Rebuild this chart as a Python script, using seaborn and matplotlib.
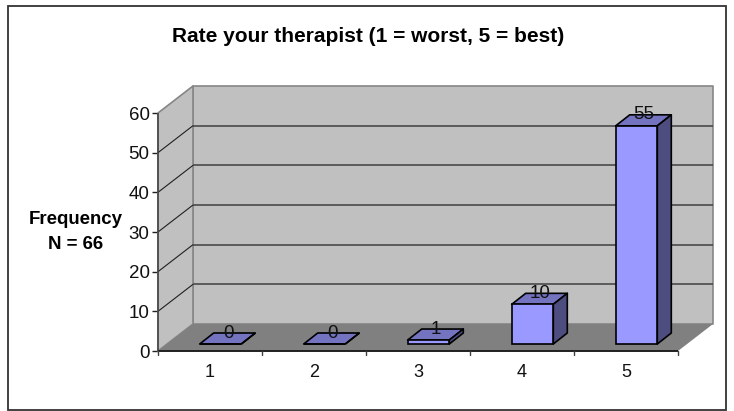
"""
Rate your therapist - Excel style 3D column chart drawn with seaborn
"""

import matplotlib
matplotlib.use("Agg")
import matplotlib.pyplot as plt
import seaborn as sns
from matplotlib.patches import Polygon, Rectangle
from matplotlib.transforms import Affine2D, IdentityTransform

# Chart data
RATINGS = ["1", "2", "3", "4", "5"]
FREQUENCY = [0, 0, 1, 10, 55]
Y_TICKS = [0, 10, 20, 30, 40, 50, 60]

TITLE = "Rate your therapist (1 = worst, 5 = best)"
Y_LABEL = "Frequency\nN = 66"

# Figure size in pixels
WIDTH, HEIGHT = 734, 411

# Depth of the 3D box and of the bars, in pixels
BOX_DX, BOX_DY = 35, 27
BAR_DX, BAR_DY = 10.5, 7
BAR_DEPTH_X, BAR_DEPTH_Y = 14, 11

FRONT = "#9999ff"
TOP = "#7373c0"
SIDE = "#4d4d80"
WALL = "#c0c0c0"
FLOOR = "#808080"
EDGE = "#868686"
GRID = "#404040"


def face(ax, pts, color, edge="none", lw=1.0, z=1):
    """Add a filled polygon given in pixel coordinates"""
    ax.add_patch(Polygon(pts, closed=True, facecolor=color, edgecolor=edge, linewidth=lw,
                         transform=IdentityTransform(), clip_on=False, zorder=z,
                         joinstyle="round"))


def line(ax, p0, p1, color, lw=1.0, z=2):
    ax.plot([p0[0], p1[0]], [p0[1], p1[1]], color=color, linewidth=lw,
            transform=IdentityTransform(), clip_on=False, zorder=z, solid_capstyle="butt")


def draw_box(ax):
    """Back wall, left wall, floor and grid lines"""
    to_px = ax.transData.transform
    x0, y0 = to_px((-0.5, 0))
    x1, _ = to_px((4.5, 0))
    _, y1 = to_px((0, max(Y_TICKS)))

    face(ax, [(x0 + BOX_DX, y0 + BOX_DY), (x1 + BOX_DX, y0 + BOX_DY),
              (x1 + BOX_DX, y1 + BOX_DY), (x0 + BOX_DX, y1 + BOX_DY)], WALL, EDGE, 1.2)
    face(ax, [(x0, y0), (x0 + BOX_DX, y0 + BOX_DY), (x0 + BOX_DX, y1 + BOX_DY), (x0, y1)],
         WALL, EDGE, 1.2)
    face(ax, [(x0, y0), (x1, y0), (x1 + BOX_DX, y0 + BOX_DY), (x0 + BOX_DX, y0 + BOX_DY)], FLOOR)

    for tick in Y_TICKS[1:-1]:
        _, y = to_px((0, tick))
        line(ax, (x0, y), (x0 + BOX_DX, y + BOX_DY), "#202020", 0.8)
        line(ax, (x0 + BOX_DX, y + BOX_DY), (x1 + BOX_DX, y + BOX_DY), GRID, 1.1)
    line(ax, (x0, y0), (x0, y1), GRID, 1.1, z=3)
    line(ax, (x0, y0), (x1, y0), "#202020", 1.4, z=3)


def draw_bars(ax):
    """Shift the seaborn bars into the box and add top and side faces"""
    shift = Affine2D().translate(BAR_DX, BAR_DY)
    for bar in ax.patches:
        if not isinstance(bar, Rectangle):
            continue
        (xa, ya), (xb, yb) = ax.transData.transform(
            [(bar.get_x(), 0), (bar.get_x() + bar.get_width(), bar.get_height())])
        bar.set_transform(ax.transData + shift)
        bar.set_clip_on(False)
        bar.set_zorder(6)
        xa, xb, ya, yb = xa + BAR_DX, xb + BAR_DX, ya + BAR_DY, yb + BAR_DY
        face(ax, [(xa, yb), (xb, yb), (xb + BAR_DEPTH_X, yb + BAR_DEPTH_Y),
                  (xa + BAR_DEPTH_X, yb + BAR_DEPTH_Y)], TOP, "black", 1.2, z=5)
        face(ax, [(xb, ya), (xb + BAR_DEPTH_X, ya + BAR_DEPTH_Y),
                  (xb + BAR_DEPTH_X, yb + BAR_DEPTH_Y), (xb, yb)], SIDE, "black", 1.2, z=5)


def main():
    sns.set_style("white")
    plt.rcParams["font.family"] = ["Liberation Sans", "DejaVu Sans"]

    fig = plt.figure(figsize=(WIDTH / 100, HEIGHT / 100), dpi=100, facecolor="white")
    ax = fig.add_axes([158 / WIDTH, (HEIGHT - 351) / HEIGHT, 520 / WIDTH, 238 / HEIGHT])
    ax.patch.set_visible(False)

    sns.barplot(x=RATINGS, y=FREQUENCY, ax=ax, color=FRONT, saturation=1, width=0.4,
                edgecolor="black", linewidth=1.2)
    ax.set_xlim(-0.5, 4.5)
    ax.set_ylim(0, max(Y_TICKS))

    draw_box(ax)
    draw_bars(ax)

    # Axis ticks and labels
    sns.despine(ax=ax, left=True, bottom=True, top=True, right=True)
    ax.set_yticks(Y_TICKS)
    ax.tick_params(axis="y", left=True, length=4, width=1, color="#202020", pad=2,
                   labelsize=13.5, labelcolor="#111111")
    ax.set_xticks(range(len(RATINGS)), RATINGS)
    ax.tick_params(axis="x", bottom=False, pad=6, labelsize=13, labelcolor="#111111")
    for pos in [p - 0.5 for p in range(len(RATINGS) + 1)]:
        ax.plot([pos, pos], [0, -1.1], color=GRID, linewidth=1, clip_on=False, zorder=3)
    ax.set_ylim(0, max(Y_TICKS))

    # Value labels sit over the back of each bar
    to_px = ax.transData.transform
    for i, value in enumerate(FREQUENCY):
        x, y = to_px((i, value))
        ax.text(x + 18, y + BAR_DY + BAR_DEPTH_Y, str(value),
                transform=IdentityTransform(), ha="center", va="center", fontsize=13.5,
                color="#111111", zorder=8)

    fig.text(368 / WIDTH, (HEIGHT - 36) / HEIGHT, TITLE, ha="center", va="center",
             fontsize=15, fontweight="bold", color="black")
    fig.text(76 / WIDTH, (HEIGHT - 232) / HEIGHT, Y_LABEL, ha="center", va="center",
             fontsize=13.4, fontweight="bold", color="black", linespacing=1.55)

    # Chart area border
    fig.add_artist(Rectangle((7.5 / WIDTH, 1 / HEIGHT), 718.5 / WIDTH, 404 / HEIGHT,
                             transform=fig.transFigure, fill=False, edgecolor="#333333",
                             linewidth=1.3))

    fig.savefig("out.png", dpi=100)
    plt.close(fig)


if __name__ == "__main__":
    main()
